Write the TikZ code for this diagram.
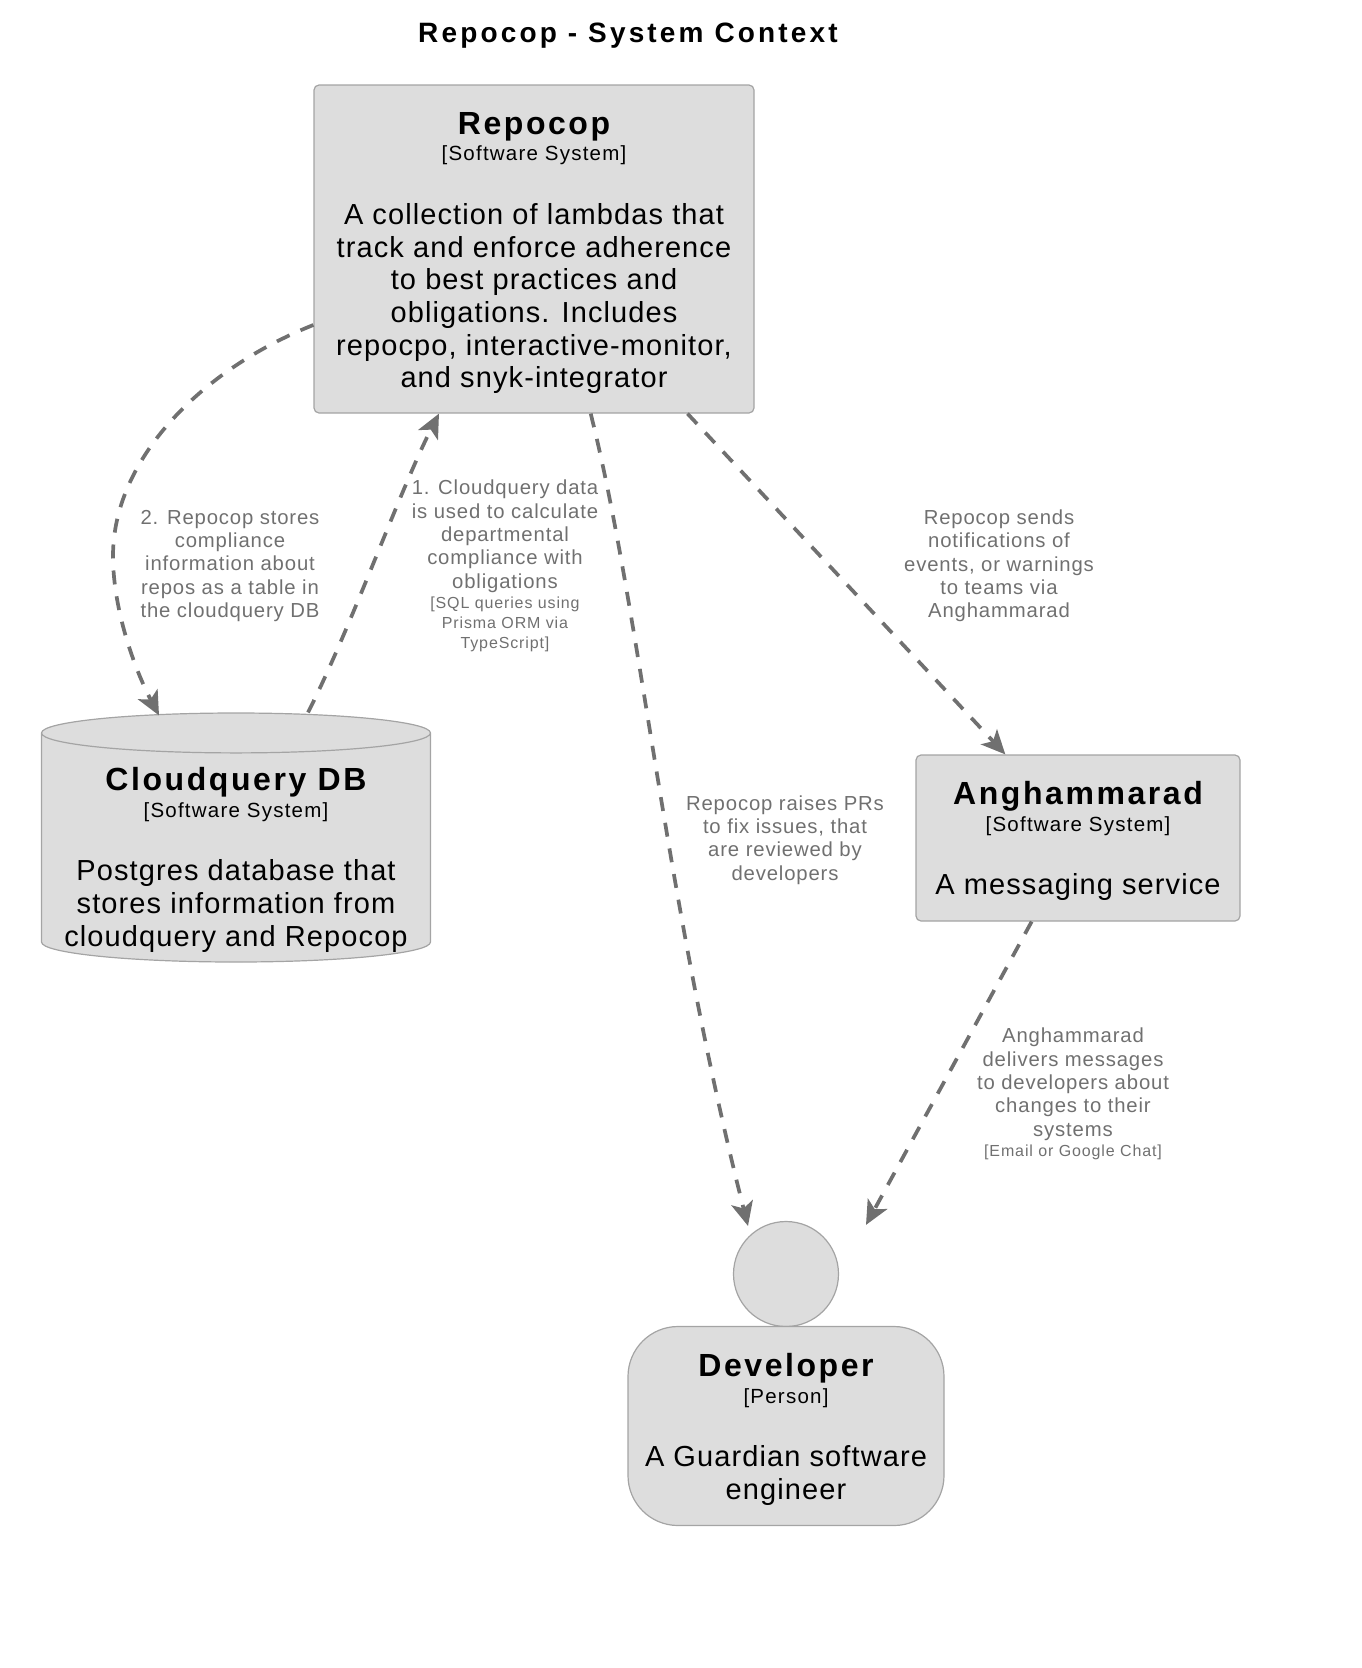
\documentclass[tikz,border=0pt]{standalone}
\usepackage{fontspec}
\setmainfont[LetterSpace=3.8]{Liberation Sans}
\usetikzlibrary{arrows.meta}
\usetikzlibrary{shapes}
\definecolor{boxfill}{HTML}{DDDDDD}
\definecolor{boxline}{HTML}{A4A4A4}
\definecolor{relline}{HTML}{707070}
\newcommand{\boxname}{\fontsize{32}{32.7}\selectfont\bfseries\addfontfeature{LetterSpace=8}}
\newcommand{\boxkind}{\fontsize{20.5}{32.7}\selectfont\addfontfeature{LetterSpace=6}}
\newcommand{\boxtext}{\fontsize{29}{32.7}\selectfont}
\newcommand{\reltech}{\fontsize{16}{20}\selectfont\addfontfeature{LetterSpace=5.5}}
\tikzset{
  sysbox/.style={rectangle,rounded corners=5pt,draw=boxline,fill=boxfill,line width=1.2pt,align=center,inner sep=0pt,text=black,font=\boxtext},
  dbbox/.style={cylinder,shape border rotate=90,aspect=0.133,draw=boxline,fill=boxfill,line width=1.2pt,inner sep=0pt},
  dbtext/.style={align=center,inner sep=0pt,text=black,font=\boxtext},
  rel/.style={draw=relline,line width=3.7pt,dash pattern=on 14pt off 12pt,-{Stealth[length=24pt,width=22pt,inset=6pt]}},
  rellabel/.style={align=center,text=relline,font=\fontsize{20.3}{23.3}\selectfont\addfontfeature{LetterSpace=4.2},inner sep=0pt}
}
\begin{document}
\begin{tikzpicture}[x=1pt,y=-1pt]
  \useasboundingbox (0,0) rectangle (1362,1668);
  \node[font=\fontsize{28}{30}\selectfont\bfseries\addfontfeature{LetterSpace=11.3},inner sep=0pt] (title) at (628,36) {Repocop - System Context};
  \node[sysbox,minimum width=440pt,minimum height=328pt] (repocop) at (534,249) {\rule{0pt}{30.4pt}{\boxname Repocop}\\[-6.2pt]{\boxkind [Software System]}\\[30.8pt]A collection of lambdas that\\track and enforce adherence\\to best practices and\\obligations. Includes\\repocpo, interactive-monitor,\\and snyk-integrator};
  \node[dbbox,anchor=shape center,minimum width=389pt,minimum height=249pt] (clouddb) at (236,837.5) {\hspace*{300pt}};
  \node[dbtext] (clouddbtext) at (236,859.5) {{\boxname Cloudquery DB}\\[-5.7pt]{\boxkind [Software System]}\\[30.8pt]Postgres database that\\stores information from\\cloudquery and Repocop};
  \node[sysbox,minimum width=324pt,minimum height=166pt] (anghammarad) at (1078,838) {\rule{0pt}{29.4pt}{\boxname Anghammarad}\\[-5.7pt]{\boxkind [Software System]}\\[30.8pt]A messaging service};
  \node[circle,draw=boxline,fill=boxfill,line width=1.2pt,minimum size=105pt,inner sep=0pt] (devhead) at (786,1274) {};
  \node[sysbox,rounded corners=50pt,minimum width=316pt,minimum height=199pt] (developer) at (786,1426) {\rule{0pt}{29.4pt}{\boxname Developer}\\[-5.7pt]{\boxkind [Person]}\\[30.8pt]A Guardian software\\engineer};
  % relations
  \draw[rel] (repocop.199.5) .. controls (200,370) and (113,460) .. (113,556) .. controls (113,610) and (135,670) .. ([xshift=-77pt,yshift=-3pt]clouddb.north);
  \draw[rel] ([xshift=72pt]clouddb.north) .. controls (350,630) and (400,490) .. (repocop.240);
  \draw[rel] (repocop.289.4) .. controls (640,610) and (665,900) .. ([xshift=-38pt,yshift=-5pt]devhead.north);
  \draw[rel] (repocop.313.6) -- (anghammarad.131.7);
  \draw[rel] (anghammarad.241) -- ([xshift=80pt,yshift=-4pt]devhead.north);
  \node[rellabel] (storelabel) at (230,566) {2. Repocop stores\\compliance\\information about\\repos as a table in\\the cloudquery DB};
  \node[rellabel] (readlabel) at (505,566) {1. Cloudquery data\\is used to calculate\\departmental\\compliance with\\obligations\\[-3pt]{\reltech [SQL queries using}\\[-3.3pt]{\reltech Prisma ORM via}\\[-3.3pt]{\reltech TypeScript]}};
  \node[rellabel] (prlabel) at (785,840) {Repocop raises PRs\\to fix issues, that\\are reviewed by\\developers};
  \node[rellabel] (notifylabel) at (999,566) {Repocop sends\\notifications of\\events, or warnings\\to teams via\\Anghammarad};
  \node[rellabel] (deliverlabel) at (1073,1094) {Anghammarad\\delivers messages\\to developers about\\changes to their\\systems\\[-3pt]{\reltech [Email or Google Chat]}};
\end{tikzpicture}
\end{document}
